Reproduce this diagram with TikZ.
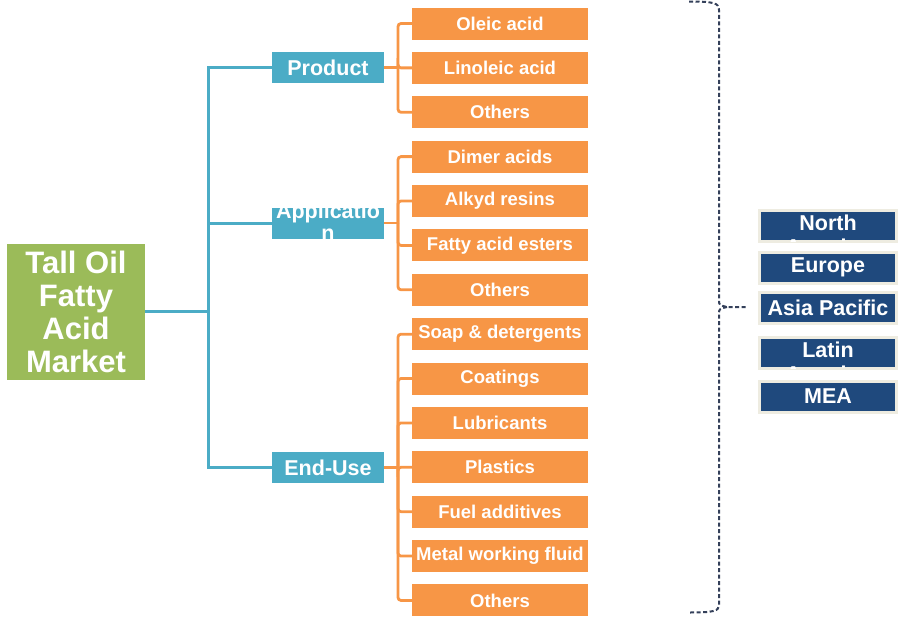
\documentclass[tikz,border=0pt]{standalone}
\usepackage{fontspec}
\setmainfont{Liberation Sans}
\definecolor{mgreen}{HTML}{9BBB59}
\definecolor{mblue}{HTML}{4BACC6}
\definecolor{morange}{HTML}{F79646}
\definecolor{mnavy}{HTML}{1F497D}
\definecolor{mcream}{HTML}{EEECE1}
\definecolor{mslate}{HTML}{34405A}
\tikzset{
  marketbox/.style={fill=mgreen,text=white,font=\fontsize{31}{33}\selectfont\bfseries,align=center,minimum width=138,minimum height=136,inner sep=0},
  segbox/.style={fill=mblue,text=white,font=\fontsize{21.5}{22}\selectfont\bfseries,minimum width=112,minimum height=31,inner sep=0},
  subbox/.style={fill=morange,text=white,font=\fontsize{18.5}{20}\selectfont\bfseries,minimum width=176,minimum height=32,inner sep=0},
  regionbox/.style={fill=mnavy,draw=mcream,line width=3,minimum width=137,minimum height=31,inner sep=0},
  regiontext/.style={text=white,font=\fontsize{21.5}{22}\selectfont\bfseries,inner sep=0},
  blueline/.style={draw=mblue,line width=3},
  orangeline/.style={draw=morange,line width=2.8,rounded corners=3},
  regionline/.style={draw=mslate,line width=2,dash pattern=on 4 off 2.5},
}
\begin{document}
\begin{tikzpicture}[x=1pt,y=-1pt]
\useasboundingbox (0,0) rectangle (900,624);
\pgfmathsetmacro{\dy}{44.38}
%
\node[marketbox](market) at (76,311.5){Tall Oil\\Fatty\\Acid\\Market};
\node[segbox](product) at (328,67.5){Product};
\node[segbox](application) at (328,223){};
\node[segbox](enduse) at (328,467.5){End-Use};
\begin{scope}
\clip (application.south west) rectangle (application.north east);
\node[regiontext,anchor=base](appA) at (328,218){Applicatio};
\node[regiontext,anchor=base](appB) at (328,240){n};
\end{scope}
%
\foreach \n/\t [count=\i] in {oleic/Oleic acid,linoleic/Linoleic acid,othersA/Others,
  dimer/Dimer acids,alkyd/Alkyd resins,esters/Fatty acid esters,othersB/Others,
  soap/Soap \& detergents,coatings/Coatings,lubricants/Lubricants,plastics/Plastics,
  fuel/Fuel additives,metal/Metal working fluid,othersC/Others}
  \node[subbox](\n) at (500,{23.5+(\i-1)*\dy}){\t};
%
\coordinate(trunk) at (208,311.5);
\draw[blueline](market.east)--(trunk);
\foreach \s in {product,application,enduse}
  \draw[blueline](trunk)|-(\s.west);
%
\coordinate(pb) at (398,67.5);
\coordinate(ab) at (398,223);
\coordinate(eb) at (398,467.5);
\draw[orangeline](product.east)--(pb);
\draw[orangeline](application.east)--(ab);
\draw[orangeline](enduse.east)--(eb);
\foreach \n in {oleic,linoleic,othersA}
  \draw[orangeline](pb)|-(\n.west);
\foreach \n in {dimer,alkyd,esters,othersB}
  \draw[orangeline](ab)|-(\n.west);
\foreach \n in {soap,coatings,lubricants,plastics,fuel,metal,othersC}
  \draw[orangeline](eb)|-(\n.west);
%
\node[regionbox](na) at (828,225.5){};
\node[regionbox](eu) at (828,267.5){};
\node[regionbox](ap) at (828,307.5){};
\node[regionbox](la) at (828,353){};
\node[regionbox](mea) at (828,396.5){};
\node[regiontext] at (eu){Europe};
\node[regiontext] at (ap){Asia Pacific};
\node[regiontext] at (mea){MEA};
\begin{scope}
\clip ([shift={(-1.5,-1.5)}]na.south west) rectangle ([shift={(1.5,1.5)}]na.north east);
\node[regiontext,anchor=base](naA) at (828,230){North};
\node[regiontext,anchor=base](naB) at (828,254){America};
\end{scope}
\begin{scope}
\clip ([shift={(-1.5,-1.5)}]la.south west) rectangle ([shift={(1.5,1.5)}]la.north east);
\node[regiontext,anchor=base](laA) at (828,357){Latin};
\node[regiontext,anchor=base](laB) at (828,381){America};
\end{scope}
%
\coordinate(rtop) at (689,1.5);
\coordinate(rmid) at (748,307);
\coordinate(rbot) at (689,612.5);
\draw[regionline](rtop) .. controls (714,1.5) and (719,3) .. (719,10)--(719,300)
  .. controls (719,305) .. (727,307)--(rmid);
\draw[regionline](727,307) .. controls (719,309) .. (719,314)--(719,605)
  .. controls (719,611) and (714,612.5) .. (rbot);
\end{tikzpicture}
\end{document}
